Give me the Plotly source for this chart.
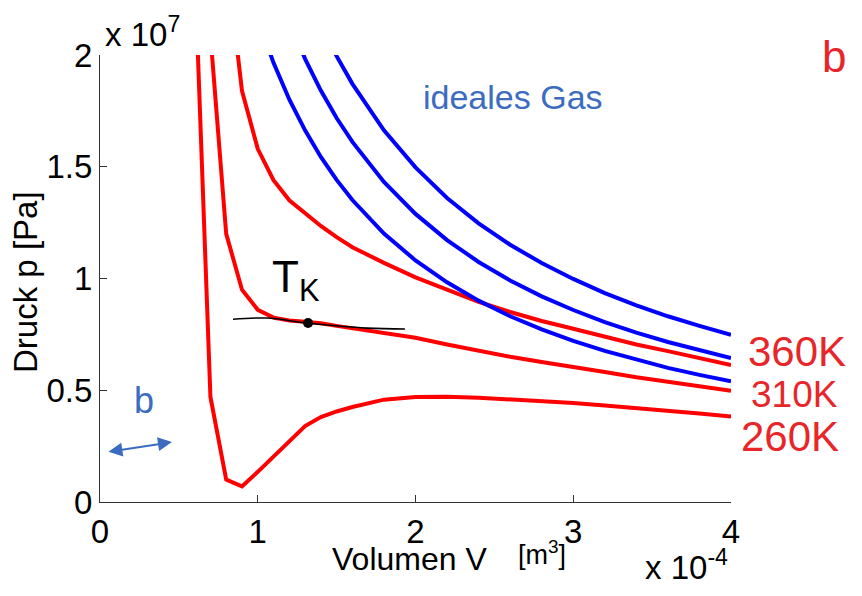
import plotly.graph_objects as go

# Volume in units of 1e-4 m^3, pressure in units of 1e7 Pa
V_vdw_260 = [0.6, 0.7, 0.8, 0.9, 1.0, 1.1, 1.2, 1.3, 1.4, 1.5, 1.6, 1.8, 2.0, 2.2, 2.4, 2.6, 2.8, 3.0, 3.2, 3.4, 3.6, 3.8, 4.0]
p_vdw_260 = [2.40, 0.47, 0.10, 0.07, 0.135, 0.205, 0.275, 0.34, 0.38, 0.405, 0.425, 0.458, 0.47, 0.471, 0.467, 0.460, 0.452, 0.443, 0.432, 0.421, 0.410, 0.396, 0.382]

V_vdw_310 = [0.7, 0.8, 0.9, 1.0, 1.1, 1.2, 1.3, 1.4, 1.5, 1.6, 1.8, 2.0, 2.2, 2.4, 2.6, 2.8, 3.0, 3.2, 3.4, 3.6, 3.8, 4.0]
p_vdw_310 = [2.09, 1.20, 0.95, 0.86, 0.825, 0.812, 0.806, 0.800, 0.788, 0.777, 0.755, 0.735, 0.705, 0.677, 0.650, 0.626, 0.605, 0.582, 0.558, 0.537, 0.517, 0.498]

V_vdw_360 = [0.8, 0.9, 1.0, 1.1, 1.2, 1.3, 1.4, 1.5, 1.6, 1.8, 2.0, 2.2, 2.4, 2.6, 2.8, 3.0, 3.2, 3.4, 3.6, 3.8, 4.0]
p_vdw_360 = [2.45, 1.84, 1.58, 1.44, 1.35, 1.29, 1.235, 1.185, 1.14, 1.07, 1.005, 0.95, 0.895, 0.85, 0.81, 0.775, 0.74, 0.705, 0.675, 0.643, 0.613]

V_ideal = [1.0, 1.1, 1.2, 1.3, 1.4, 1.5, 1.6, 1.8, 2.0, 2.2, 2.4, 2.6, 2.8, 3.0, 3.2, 3.4, 3.6, 3.8, 4.0]
p_ideal_260 = [2.162, 1.965, 1.801, 1.663, 1.544, 1.441, 1.351, 1.201, 1.081, 0.983, 0.901, 0.831, 0.772, 0.721, 0.676, 0.636, 0.600, 0.569, 0.540]
p_ideal_310 = [2.577, 2.343, 2.148, 1.983, 1.841, 1.718, 1.611, 1.432, 1.289, 1.172, 1.074, 0.991, 0.920, 0.859, 0.805, 0.758, 0.716, 0.678, 0.644]
p_ideal_360 = [2.993, 2.721, 2.494, 2.302, 2.138, 1.995, 1.871, 1.663, 1.497, 1.360, 1.247, 1.151, 1.069, 0.998, 0.935, 0.880, 0.831, 0.788, 0.748]

# hand-drawn tangent through the critical point
V_tangent = [0.843, 1.058, 1.312, 1.693, 1.933]
p_tangent = [0.818, 0.823, 0.801, 0.778, 0.774]
V_crit = [1.319]
p_crit = [0.801]

x_ticks = [0, 1, 2, 3, 4]
y_ticks = [0, 0.5, 1, 1.5, 2]

RED = "#ff0000"
BLUE = "#0000ff"
HAND_RED = "#e8262a"
HAND_BLUE = "#3b6cc0"

fig = go.Figure()
for V, p in [(V_vdw_260, p_vdw_260), (V_vdw_310, p_vdw_310), (V_vdw_360, p_vdw_360)]:
    fig.add_trace(go.Scatter(x=V, y=p, mode="lines", line=dict(color=RED, width=4), showlegend=False))
for p in [p_ideal_260, p_ideal_310, p_ideal_360]:
    fig.add_trace(go.Scatter(x=V_ideal, y=p, mode="lines", line=dict(color=BLUE, width=4), showlegend=False))
fig.add_trace(go.Scatter(x=V_tangent, y=p_tangent, mode="lines", line=dict(color="black", width=1.6, shape="spline"), showlegend=False))
fig.add_trace(go.Scatter(x=V_crit, y=p_crit, mode="markers", marker=dict(color="black", size=10), showlegend=False))

FONT = "Liberation Sans, Arial, sans-serif"
ann = []
def A(text, x, y, size, color="black", **kw):
    d = dict(text=text, x=x, y=y, xref="paper", yref="paper", showarrow=False,
             font=dict(family=FONT, size=size, color=color), xanchor="center", yanchor="middle")
    d.update(kw)
    ann.append(d)

A("Volumen V", 0.491, -0.128, 32)
A("[m<sup>3</sup>]", 0.700, -0.115, 27)
A("Druck p [Pa]", -0.119, 0.492, 33, textangle=-90)
A("x 10<sup>7</sup>", 0.004, 1.0, 33, xanchor="left", yanchor="bottom")
A("x 10<sup>-4</sup>", 0.999, -0.192, 33, xanchor="right", yanchor="bottom")

A("ideales Gas", 0.654, 0.906, 34, HAND_BLUE)
A("b", 1.163, 0.996, 44, HAND_RED)
A("360K", 1.105, 0.336, 42, HAND_RED)
A("310K", 1.100, 0.241, 37, HAND_RED)
A("260K", 1.093, 0.146, 42, HAND_RED)
A("b", 0.070, 0.228, 36, HAND_BLUE)
A("T<sub>K</sub>", 0.311, 0.497, 44, "black")

ann.append(dict(x=0.456, y=0.268, ax=0.044, ay=0.224, xref="x", yref="y", axref="x", ayref="y",
                showarrow=True, arrowhead=2, startarrowhead=2, arrowside="end+start",
                arrowsize=1.4, startarrowsize=1.4,
                arrowwidth=2, arrowcolor=HAND_BLUE, text=""))

# page body has an 8px margin; size the figure so it fits the 862x596 window
fig.update_layout(
    width=854, height=588, autosize=False,
    margin=dict(l=92, r=131, t=47, b=94),
    plot_bgcolor="white", paper_bgcolor="white",
    font=dict(family=FONT, size=33, color="black"),
    annotations=ann,
)
fig.update_xaxes(range=[0, 4], tickvals=x_ticks, ticks="inside", ticklen=7, tickcolor="#333",
                 showline=True, linecolor="#333", linewidth=1, showgrid=False, zeroline=False,
                 tickfont=dict(size=33), automargin=False)
fig.update_yaxes(range=[0, 2], tickvals=y_ticks, ticks="inside", ticklen=7, tickcolor="#333",
                 showline=True, linecolor="#333", linewidth=1, showgrid=False, zeroline=False,
                 tickfont=dict(size=33), automargin=False)

fig.write_html("out.html")
